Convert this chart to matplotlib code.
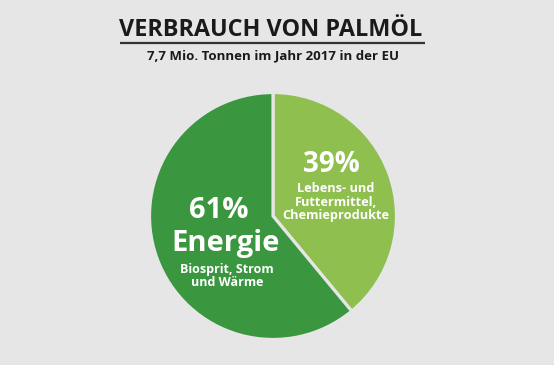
import matplotlib.pyplot as plt

labels = [["Lebens- und", "Futtermittel,", "Chemieprodukte"],
          ["Biosprit, Strom", "und Wärme"]]
shares = [39, 61]
pcts = ["39%", "61%"]
colors = ["#8fbf4f", "#3a973f"]
bg = "#e6e6e6"

plt.rcParams["font.family"] = ["Open Sans", "DejaVu Sans"]

W, H = 554, 365
fig = plt.figure(figsize=(W / 100, H / 100), dpi=100, facecolor=bg)
ax = fig.add_axes([0, 0, 1, 1])

ax.pie(shares, colors=colors, startangle=90, counterclock=False,
       center=(273, H - 216), radius=123.5,
       wedgeprops=dict(edgecolor=bg, linewidth=2.3), frame=True)
ax.set_xlim(0, W)
ax.set_ylim(0, H)
ax.set_aspect("equal")
ax.axis("off")

# title block
ax.text(271, H - 36.5, "VERBRAUCH VON PALMÖL", ha="center", va="baseline",
        fontsize=16.8, fontweight="bold", color="#1a1a1a")
ax.plot([120, 425], [H - 43, H - 43], color="#333333", lw=1.6,
        solid_capstyle="butt")
ax.text(273, H - 59.3, "7,7 Mio. Tonnen im Jahr 2017 in der EU", ha="center",
        va="baseline", fontsize=9.5, fontweight="bold", color="#1a1a1a")

# light slice labels
ax.text(331, H - 171.5, pcts[0], ha="center", va="baseline", fontsize=20,
        fontweight="bold", color="white")
for i, line in enumerate(labels[0]):
    ax.text(336, H - (191.5 + 14 * i), line, ha="center", va="baseline",
            fontsize=9.2, fontweight="bold", color="white")

# dark slice labels
ax.text(219, H - 218, pcts[1], ha="center", va="baseline", fontsize=21,
        fontweight="bold", color="white")
ax.text(226, H - 251.5, "Energie", ha="center", va="baseline", fontsize=21,
        fontweight="bold", color="white")
for i, line in enumerate(labels[1]):
    ax.text(227, H - (272.5 + 14 * i), line, ha="center", va="baseline",
            fontsize=9, fontweight="bold", color="white")

fig.savefig("out.png", dpi=100, facecolor=bg)
